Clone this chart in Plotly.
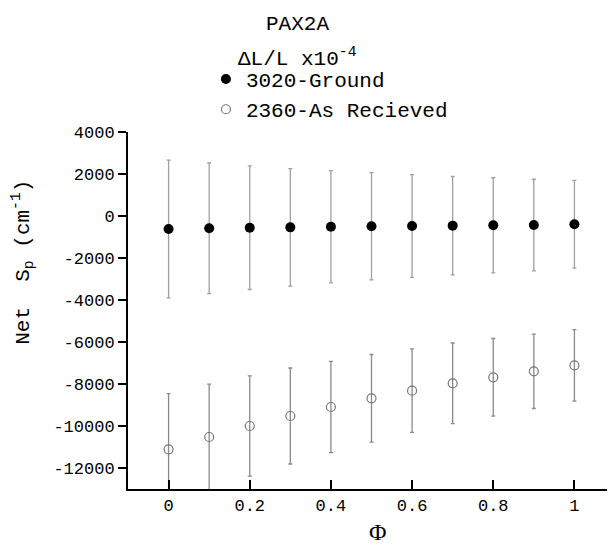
import plotly.graph_objects as go

phi = [0, 0.1, 0.2, 0.3, 0.4, 0.5, 0.6, 0.7, 0.8, 0.9, 1.0]

ground_name = "3020-Ground"
ground_vals = [-619, -587, -556, -540, -510, -490, -476, -460, -444, -429, -395]
ground_err = [3280, 3110, 2945, 2795, 2675, 2555, 2450, 2340, 2265, 2180, 2090]

recv_name = "2360-As Recieved"
recv_vals = [-11110, -10524, -10000, -9524, -9095, -8683, -8317, -7968, -7683, -7397, -7111]
recv_err = [2650, 2520, 2390, 2286, 2175, 2088, 1985, 1920, 1850, 1770, 1705]

y_ticks = [4000, 2000, 0, -2000, -4000, -6000, -8000, -10000, -12000]
y_tick_text = ["4000", "2000", "0", "-2000", "-4000", "-6000", "-8000", "-10000", "-12000"]
x_ticks = [0, 0.2, 0.4, 0.6, 0.8, 1]
x_tick_text = ["0", "0.2", "0.4", "0.6", "0.8", "1"]

mono = "Liberation Mono, Courier New, monospace"

fig = go.Figure()
fig.add_trace(go.Scatter(
    x=phi, y=ground_vals, mode="markers", name=ground_name,
    marker=dict(symbol="circle", size=10, color="black"),
    error_y=dict(type="data", array=ground_err, visible=True,
                 color="#a0a0a0", thickness=1.3, width=2),
))
fig.add_trace(go.Scatter(
    x=phi, y=recv_vals, mode="markers", name=recv_name,
    marker=dict(symbol="circle-open", size=9, color="#777777", line=dict(width=1.2)),
    error_y=dict(type="data", array=recv_err, visible=True,
                 color="#8a8a8a", thickness=1.3, width=2),
))

# page body has an 8px default margin, so the figure is 8px smaller in each direction
fig.update_layout(
    width=607, height=541,
    margin=dict(l=120, r=0, t=124, b=60, autoexpand=False),
    paper_bgcolor="white", plot_bgcolor="white",
    font=dict(family=mono, color="black"),
    showlegend=True,
    legend=dict(x=0.16, y=1.205, xanchor="left", yanchor="top",
                font=dict(family=mono, size=21, color="black"),
                bgcolor="rgba(0,0,0,0)", tracegroupgap=0, itemsizing="trace"),
    xaxis=dict(range=[-0.1, 1.1], tickvals=x_ticks, ticktext=x_tick_text,
               ticks="inside", ticklen=9, tickwidth=2, tickcolor="black",
               showline=True, linecolor="black", linewidth=2,
               showgrid=False, zeroline=False,
               tickfont=dict(family=mono, size=17, color="black")),
    yaxis=dict(range=[-13000, 4000], tickvals=y_ticks, ticktext=y_tick_text,
               ticks="outside", ticklen=8, tickwidth=2, tickcolor="black",
               showline=True, linecolor="black", linewidth=2,
               showgrid=False, zeroline=False,
               tickfont=dict(family=mono, size=17, color="black")),
    annotations=[
        dict(text="PAX2A", x=0.349, y=1.30, xref="paper", yref="paper",
             xanchor="center", yanchor="middle", showarrow=False,
             font=dict(family=mono, size=21, color="black")),
        dict(text="ΔL/L x10<sup>-4</sup>", x=0.349, y=1.21, xref="paper", yref="paper",
             xanchor="center", yanchor="middle", showarrow=False,
             font=dict(family=mono, size=21, color="black")),
        dict(text="Net  S<sub>p</sub> (cm<sup>-1</sup>)", x=-0.216, y=0.636,
             xref="paper", yref="paper", xanchor="center", yanchor="middle",
             textangle=-90, showarrow=False,
             font=dict(family=mono, size=21, color="black")),
        dict(text="Φ", x=0.513, y=-0.12, xref="paper", yref="paper",
             xanchor="center", yanchor="middle", showarrow=False,
             font=dict(family="Liberation Serif, DejaVu Serif, serif", size=24, color="black")),
    ],
)

fig.write_html("out.html")
